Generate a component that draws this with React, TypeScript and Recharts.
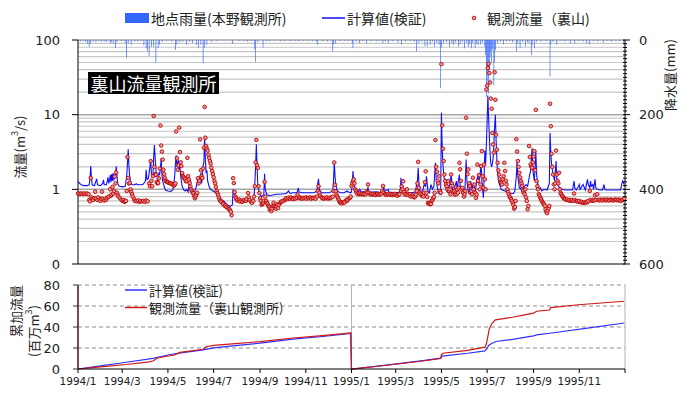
import React from "react";
import { ComposedChart, LineChart, Line, Bar, XAxis, YAxis, CartesianGrid } from "recharts";

// Day index 0 = 1994/1/1, 730 = 1996/1/1
const monthTickDays = [0, 59, 120, 181, 243, 304, 365, 424, 485, 546, 608, 669, 730];
const monthTickLabels = ["1994/1", "1994/3", "1994/5", "1994/7", "1994/9", "1994/11", "1995/1", "1995/3", "1995/5", "1995/7", "1995/9", "1995/11", ""];

const flowTicks = [0.1, 1, 10, 100];
const flowMinorGrid = [0.2, 0.3, 0.4, 0.5, 0.6, 0.7, 0.8, 0.9, 2, 3, 4, 5, 6, 7, 8, 9, 20, 30, 40, 50, 60, 70, 80, 90];
const flowMajorGrid = [1, 10, 100];
const rainTicks = Array.from({ length: 61 }, (_, i) => i * 10);
const cumTicks = [0, 20, 40, 60, 80];
const cumGrid = [20, 40, 60, 80];
const yearLines = [365, 730];

// daily rainfall at 本野 (mm), [day, mm]
const rainfall: [number, number][] = [
  [3, 4], [7, 3], [10, 5], [13, 10], [15, 18], [17, 9], [20, 4], [24, 6], [28, 3], [31, 5], [35, 4], [38, 5], [43, 9], [45, 6], [47, 10], [50, 22], [52, 6], [58, 3], [63, 8], [65, 49], [67, 10], [71, 13], [76, 4], [80, 5], [84, 3], [88, 14], [91, 22], [93, 31], [95, 43], [98, 18], [101, 18], [104, 60], [107, 22], [109, 12], [113, 5], [118, 3], [125, 4], [130, 27], [132, 13], [136, 6], [140, 4], [145, 13], [149, 5], [153, 8], [158, 13], [161, 22], [164, 13], [167, 62], [169, 20], [172, 13], [178, 4], [186, 3], [195, 2], [206, 10], [215, 2], [222, 3], [226, 4], [232, 3], [236, 25], [237, 59], [240, 6], [247, 20], [252, 4], [256, 3], [262, 2], [270, 3], [276, 2], [283, 3], [290, 2], [295, 4], [301, 3], [306, 2], [313, 3], [318, 5], [320, 13], [327, 3], [333, 4], [340, 31], [341, 12], [344, 10], [350, 3], [356, 2], [361, 3],
  [366, 8], [367, 22], [371, 4], [376, 9], [380, 3], [385, 9], [392, 3], [398, 4], [403, 2], [407, 9], [410, 4], [414, 9], [420, 3], [427, 7], [432, 13], [437, 4], [444, 3], [449, 5], [452, 31], [455, 8], [459, 4], [463, 16], [466, 18], [470, 13], [473, 5], [476, 18], [479, 8], [482, 13], [484, 129], [485, 20], [488, 10], [492, 6], [496, 18], [499, 8], [501, 13], [504, 6], [508, 18], [510, 12], [513, 5], [516, 22], [519, 8], [521, 18], [523, 10], [525, 22], [527, 8], [530, 22], [532, 10], [534, 14], [537, 12], [540, 6], [543, 18], [544, 40], [545, 152], [546, 125], [547, 95], [548, 143], [549, 80], [550, 45], [551, 30], [552, 62], [553, 25], [555, 121], [556, 60], [557, 27], [560, 8], [564, 5], [568, 12], [572, 4], [576, 3], [580, 6], [585, 31], [587, 10], [590, 22], [593, 5], [597, 18], [600, 6], [602, 8], [605, 40], [606, 15], [609, 22], [612, 5], [618, 4], [625, 3], [630, 98], [631, 12], [634, 5], [639, 13], [645, 3], [650, 4], [657, 9], [663, 9], [668, 3], [674, 4], [679, 9], [683, 12], [688, 3], [694, 4], [701, 7], [706, 3], [712, 4], [718, 3], [723, 3], [728, 7],
];

// computed discharge (m3/s), [day, value]
const calcFlow: [number, number][] = [
  [0, 1.27], [3, 1.18], [7, 1.12], [12, 1.12], [15, 1.15], [16, 1.4], [17, 2.05], [18, 1.4], [19, 1.15], [22, 1.12], [24, 1.3], [25, 1.38], [26, 1.15], [30, 1.12], [33, 1.2], [34, 1.34], [35, 1.15], [38, 1.15], [40, 1.45], [41, 1.2], [42, 1.3], [43, 1.55], [44, 1.25], [45, 1.6], [46, 1.3], [47, 1.65], [48, 1.35], [50, 1.5], [51, 2.03], [52, 1.5], [53, 1.2], [55, 1.1], [60, 1.08], [63, 1.1], [65, 1.5], [66, 2.2], [67, 3.45], [68, 2.0], [69, 1.5], [70, 1.25], [72, 1.15], [75, 1.15], [78, 1.18], [80, 1.15], [84, 1.15], [87, 1.17], [90, 1.3], [91, 1.83], [92, 1.35], [94, 1.4], [96, 2.0], [97, 2.55], [98, 1.6], [100, 1.5], [101, 2.7], [102, 3.93], [103, 2.6], [104, 1.8], [105, 1.5], [106, 1.41], [107, 1.3], [108, 1.65], [109, 1.6], [110, 1.9], [111, 2.62], [112, 1.6], [113, 1.3], [115, 1.09], [117, 0.97], [120, 0.95], [124, 0.94], [127, 1.0], [129, 1.5], [130, 2.2], [131, 2.85], [132, 2.0], [133, 2.3], [134, 2.45], [135, 1.8], [136, 2.0], [137, 1.5], [139, 1.1], [141, 0.98], [143, 0.95], [145, 1.0], [147, 0.92], [149, 1.4], [150, 1.1], [153, 0.92], [155, 0.89], [158, 1.1], [160, 1.41], [161, 1.2], [163, 1.5], [164, 1.65], [165, 1.2], [166, 1.5], [167, 2.1], [168, 2.3], [169, 5.2], [170, 2.5], [171, 1.65], [172, 1.8], [173, 1.3], [175, 1.09], [177, 1.0], [180, 0.95], [185, 0.89], [190, 0.75], [195, 0.69], [199, 0.62], [203, 0.59], [206, 0.62], [207, 1.0], [208, 0.9], [210, 0.8], [214, 0.73], [218, 0.73], [221, 0.74], [225, 0.72], [227, 0.76], [230, 0.7], [232, 0.67], [235, 0.8], [236, 1.2], [237, 2.0], [238, 4.0], [239, 2.0], [240, 1.1], [242, 0.9], [245, 0.8], [248, 0.85], [249, 1.62], [250, 1.0], [252, 0.85], [256, 0.82], [260, 0.84], [265, 0.86], [270, 0.86], [278, 0.88], [281, 0.95], [283, 0.88], [287, 0.9], [292, 0.9], [293, 0.95], [294, 1.05], [295, 0.92], [300, 0.9], [305, 0.9], [310, 0.9], [315, 0.9], [319, 0.95], [320, 1.2], [321, 1.38], [322, 1.0], [325, 0.9], [330, 0.9], [335, 0.9], [340, 0.95], [341, 1.3], [342, 2.36], [343, 1.5], [344, 1.15], [346, 0.95], [350, 0.9], [355, 0.9], [359, 0.95], [361, 0.92], [364, 0.9],
  [365, 0.93], [366, 1.2], [367, 1.76], [368, 1.3], [369, 1.1], [371, 0.93], [374, 0.93], [376, 1.0], [378, 0.93], [385, 0.93], [387, 1.05], [388, 0.93], [395, 0.92], [398, 0.93], [405, 0.9], [407, 0.95], [408, 1.1], [409, 0.93], [414, 1.0], [415, 0.92], [425, 0.9], [430, 0.92], [431, 1.43], [432, 1.0], [434, 0.9], [445, 0.9], [450, 0.92], [453, 1.3], [454, 1.95], [455, 1.2], [456, 0.95], [460, 0.95], [462, 1.16], [464, 1.1], [465, 1.5], [466, 1.2], [467, 0.95], [469, 0.9], [471, 1.16], [473, 1.0], [475, 1.1], [477, 2.27], [478, 1.4], [479, 1.16], [481, 0.88], [484, 0.85], [485, 10.6], [486, 3.6], [487, 2.2], [488, 1.58], [490, 1.16], [492, 0.95], [494, 0.9], [496, 1.16], [498, 1.58], [499, 1.2], [500, 0.95], [502, 0.86], [503, 1.1], [505, 1.29], [506, 0.95], [507, 1.2], [509, 1.58], [510, 1.1], [512, 0.9], [514, 0.86], [516, 0.8], [518, 2.5], [519, 1.3], [520, 1.05], [522, 0.86], [524, 1.29], [526, 1.0], [527, 1.16], [529, 1.1], [530, 0.86], [532, 1.3], [534, 1.58], [535, 1.2], [536, 1.4], [538, 2.15], [539, 1.3], [540, 1.0], [541, 0.77], [542, 1.5], [543, 3.3], [544, 2.2], [545, 4.0], [546, 8.0], [547, 18.0], [548, 9.0], [549, 5.0], [550, 3.0], [551, 2.2], [552, 2.0], [553, 2.2], [554, 2.6], [555, 4.0], [556, 7.0], [557, 10.0], [558, 4.5], [559, 2.5], [560, 1.6], [562, 1.2], [564, 1.05], [566, 0.98], [570, 0.95], [574, 0.9], [578, 0.88], [581, 0.88], [583, 0.95], [585, 1.5], [586, 2.39], [587, 1.5], [589, 1.05], [591, 1.0], [593, 1.29], [594, 1.0], [596, 1.1], [598, 1.16], [600, 1.1], [603, 1.6], [604, 1.76], [606, 3.6], [607, 1.8], [609, 1.3], [611, 3.25], [612, 1.6], [613, 1.3], [615, 1.0], [617, 1.05], [619, 0.95], [622, 1.0], [626, 0.98], [629, 1.2], [630, 5.7], [631, 3.0], [632, 2.2], [634, 1.58], [636, 1.3], [638, 2.39], [639, 1.4], [641, 1.1], [643, 1.05], [645, 1.0], [650, 0.98], [655, 0.98], [660, 0.98], [662, 1.29], [663, 1.05], [665, 0.98], [668, 1.1], [669, 1.16], [670, 1.0], [674, 1.16], [675, 1.1], [677, 0.98], [680, 1.36], [681, 1.16], [683, 1.05], [684, 1.29], [685, 1.1], [687, 1.16], [688, 1.0], [690, 1.36], [691, 1.05], [693, 1.0], [696, 0.98], [700, 0.98], [702, 1.16], [703, 1.0], [705, 0.98], [710, 0.98], [715, 0.98], [720, 0.98], [724, 0.98], [726, 1.2], [727, 1.3], [729, 1.16],
];

// observed discharge at 裏山 (m3/s), [day, value]
const observedFlow: [number, number][] = [
  [0, 0.88], [2, 0.87], [4, 0.88], [6, 0.87], [8, 0.88], [10, 0.87], [12, 0.88], [14, 0.86], [15, 0.72], [16, 0.69], [17, 1.42], [18, 0.78], [19, 0.74], [20, 0.72], [22, 0.76], [23, 0.93], [24, 0.75], [26, 0.72], [27, 0.78], [29, 0.73], [30, 0.7], [31, 0.75], [32, 0.93], [33, 0.74], [35, 0.71], [37, 0.72], [38, 0.76], [40, 0.78], [41, 0.8], [43, 1.0], [44, 0.82], [45, 0.85], [46, 1.08], [47, 0.88], [48, 0.95], [49, 1.48], [50, 1.2], [51, 1.68], [52, 0.9], [53, 0.84], [54, 0.8], [56, 0.76], [58, 0.72], [60, 0.7], [61, 0.72], [62, 0.68], [63, 0.69], [64, 0.7], [65, 0.95], [66, 2.7], [67, 1.42], [68, 1.2], [69, 1.22], [70, 1.0], [71, 0.92], [72, 0.86], [73, 0.8], [75, 0.74], [76, 0.7], [78, 0.69], [80, 0.71], [82, 0.68], [83, 0.7], [85, 0.69], [87, 0.7], [89, 0.68], [91, 0.71], [93, 0.69], [95, 1.2], [96, 1.1], [97, 2.38], [98, 1.3], [99, 1.1], [100, 1.5], [101, 9.6], [102, 2.0], [103, 1.6], [104, 1.57], [105, 1.25], [106, 1.2], [107, 1.22], [108, 1.4], [109, 1.9], [110, 7.15], [111, 3.86], [112, 3.2], [113, 2.5], [114, 1.83], [115, 1.6], [116, 1.41], [117, 1.3], [118, 1.28], [119, 1.25], [120, 1.24], [122, 1.22], [123, 1.2], [124, 1.2], [126, 1.18], [127, 1.15], [128, 1.12], [129, 1.15], [130, 1.2], [131, 5.95], [132, 2.6], [133, 1.83], [134, 2.1], [135, 6.7], [136, 3.15], [137, 2.3], [138, 2.05], [139, 1.65], [140, 1.5], [141, 1.45], [142, 1.4], [143, 1.36], [144, 1.28], [145, 1.3], [146, 2.64], [147, 1.5], [148, 1.35], [149, 1.22], [150, 1.1], [151, 1.0], [152, 0.95], [153, 0.9], [154, 0.89], [155, 0.82], [156, 0.76], [157, 0.8], [158, 0.85], [159, 0.9], [160, 1.41], [161, 1.2], [162, 1.3], [163, 4.65], [164, 1.8], [165, 1.5], [166, 1.42], [167, 1.9], [168, 3.6], [169, 12.7], [170, 4.9], [171, 3.8], [172, 3.5], [173, 3.3], [174, 2.9], [175, 2.64], [176, 2.4], [177, 2.2], [178, 1.95], [179, 1.75], [180, 1.6], [181, 1.45], [182, 1.3], [183, 1.2], [184, 1.08], [185, 0.95], [186, 0.89], [187, 0.84], [188, 0.78], [189, 0.73], [190, 0.7], [191, 0.68], [193, 0.65], [194, 0.63], [196, 0.6], [197, 0.61], [198, 0.58], [200, 0.57], [201, 0.55], [202, 0.54], [203, 0.52], [204, 0.5], [205, 0.45], [207, 1.41], [208, 1.21], [209, 0.92], [210, 0.8], [211, 0.76], [212, 0.72], [214, 0.7], [215, 0.73], [216, 0.69], [218, 0.71], [219, 0.68], [221, 0.7], [222, 0.72], [224, 0.7], [225, 0.74], [227, 0.89], [228, 0.78], [229, 0.72], [231, 0.68], [232, 0.66], [234, 0.7], [235, 0.8], [236, 1.1], [237, 2.29], [238, 4.6], [239, 2.1], [240, 1.93], [241, 1.1], [242, 0.89], [243, 0.76], [244, 0.7], [245, 0.62], [246, 0.64], [247, 0.66], [248, 0.7], [249, 1.26], [250, 0.8], [251, 0.7], [252, 0.66], [253, 0.64], [254, 0.6], [255, 0.58], [256, 0.53], [257, 0.56], [258, 0.51], [259, 0.55], [260, 0.6], [261, 0.66], [262, 0.6], [263, 0.58], [264, 0.55], [265, 0.59], [266, 0.63], [267, 0.56], [268, 0.62], [270, 0.66], [271, 0.68], [272, 0.69], [274, 0.7], [276, 0.72], [277, 0.74], [278, 0.76], [280, 0.74], [281, 0.77], [283, 0.75], [284, 0.78], [286, 0.76], [287, 0.74], [289, 0.77], [290, 0.75], [292, 0.77], [293, 0.85], [295, 0.76], [296, 0.78], [298, 0.76], [299, 0.75], [301, 0.77], [302, 0.76], [304, 0.78], [305, 0.75], [307, 0.77], [308, 0.76], [310, 0.78], [311, 0.75], [313, 0.77], [314, 0.76], [316, 0.78], [317, 0.75], [319, 0.8], [320, 0.95], [321, 1.1], [322, 0.9], [323, 0.82], [325, 0.78], [326, 0.76], [328, 0.75], [329, 0.77], [331, 0.76], [332, 0.78], [334, 0.75], [335, 0.77], [337, 0.76], [338, 0.78], [340, 0.8], [341, 0.95], [342, 2.29], [343, 1.15], [344, 0.94], [345, 0.85], [346, 0.8], [347, 0.76], [348, 0.72], [349, 0.68], [350, 0.66], [351, 0.67], [352, 0.65], [354, 0.66], [355, 0.68], [356, 0.67], [358, 0.72], [359, 0.7], [360, 0.73], [362, 0.76], [363, 0.77], [364, 0.8],
  [365, 1.11], [366, 1.2], [367, 1.29], [368, 1.36], [369, 1.2], [370, 1.0], [371, 0.95], [372, 0.9], [373, 0.87], [375, 0.86], [376, 0.88], [378, 0.86], [379, 0.87], [381, 0.85], [382, 0.87], [384, 0.86], [385, 0.93], [386, 0.9], [387, 1.16], [388, 0.9], [390, 0.86], [391, 0.87], [393, 0.85], [394, 0.87], [396, 0.86], [397, 0.84], [399, 0.86], [400, 0.87], [402, 0.85], [403, 0.86], [405, 0.88], [406, 0.95], [407, 1.11], [408, 0.9], [410, 0.86], [411, 0.84], [413, 0.86], [414, 0.87], [416, 0.85], [417, 0.86], [419, 0.84], [420, 0.86], [422, 0.85], [423, 0.87], [425, 0.84], [426, 0.82], [428, 0.85], [429, 0.86], [431, 0.95], [432, 1.1], [433, 1.0], [434, 1.28], [435, 0.92], [436, 0.86], [438, 0.85], [439, 1.0], [440, 0.87], [441, 0.84], [443, 0.86], [444, 0.8], [446, 0.83], [447, 0.8], [449, 0.78], [450, 0.8], [451, 0.85], [452, 0.95], [453, 1.2], [454, 2.33], [455, 1.05], [456, 0.9], [457, 0.86], [459, 0.82], [460, 0.85], [461, 0.8], [462, 0.9], [463, 1.25], [464, 1.74], [465, 0.9], [466, 0.79], [467, 0.66], [468, 0.64], [469, 0.65], [470, 0.63], [471, 0.64], [472, 0.7], [473, 0.72], [474, 0.76], [475, 0.79], [476, 0.9], [477, 4.56], [478, 2.0], [479, 1.72], [480, 1.3], [481, 1.2], [482, 1.5], [483, 0.95], [484, 0.9], [485, 47.5], [486, 7.2], [487, 3.5], [488, 2.39], [489, 1.58], [490, 1.3], [491, 1.16], [492, 1.1], [493, 1.0], [494, 1.29], [495, 0.95], [496, 1.0], [497, 0.86], [498, 1.58], [499, 1.2], [500, 1.11], [501, 0.93], [502, 0.95], [503, 0.85], [504, 0.9], [505, 0.86], [506, 1.0], [507, 0.9], [508, 1.05], [509, 2.27], [510, 1.85], [511, 1.3], [512, 1.0], [513, 1.05], [514, 0.9], [515, 0.8], [516, 0.86], [517, 0.95], [518, 9.1], [519, 3.0], [520, 1.6], [521, 1.85], [522, 1.2], [523, 1.11], [524, 0.9], [525, 0.95], [526, 0.86], [527, 1.43], [528, 1.0], [529, 1.16], [530, 0.9], [531, 0.77], [532, 0.85], [533, 2.15], [534, 1.3], [535, 1.55], [536, 1.0], [537, 1.16], [538, 2.05], [539, 3.25], [540, 1.5], [541, 1.05], [542, 2.15], [543, 1.36], [544, 1.0], [545, 21.7], [546, 24.5], [547, 42], [548, 48], [549, 36], [550, 27], [551, 16.4], [552, 12], [553, 5.7], [554, 4.0], [555, 3.1], [556, 37], [557, 15.8], [558, 5.4], [559, 3.4], [560, 2.27], [561, 1.8], [562, 1.58], [563, 1.36], [564, 1.25], [565, 1.22], [566, 1.16], [567, 1.36], [568, 1.5], [569, 2.27], [570, 1.76], [571, 1.3], [572, 1.16], [573, 1.0], [574, 0.92], [575, 0.86], [576, 0.8], [577, 0.77], [578, 0.74], [579, 0.7], [580, 0.66], [581, 0.62], [582, 0.55], [583, 0.58], [584, 0.7], [585, 4.7], [586, 3.2], [587, 2.39], [588, 2.0], [589, 1.67], [590, 1.45], [591, 1.29], [592, 1.2], [593, 1.11], [594, 0.95], [595, 0.9], [596, 0.86], [597, 1.0], [598, 0.78], [599, 0.7], [600, 0.54], [601, 0.6], [602, 3.8], [603, 2.7], [604, 2.15], [605, 2.0], [606, 1.95], [607, 2.3], [608, 2.75], [609, 3.25], [610, 1.8], [611, 11.6], [612, 1.29], [613, 1.1], [614, 1.0], [615, 0.86], [616, 0.82], [617, 0.77], [618, 0.74], [619, 0.7], [620, 0.67], [621, 0.65], [622, 0.63], [623, 0.6], [624, 0.54], [625, 0.5], [626, 0.48], [627, 0.52], [628, 0.56], [629, 0.6], [630, 14], [631, 7.0], [632, 3.0], [633, 2.0], [634, 1.58], [635, 1.16], [636, 1.0], [637, 1.2], [638, 3.3], [639, 1.58], [640, 1.3], [641, 1.2], [642, 1.67], [643, 1.0], [644, 0.9], [645, 0.86], [646, 0.82], [647, 0.8], [648, 0.77], [649, 0.75], [650, 0.74], [652, 0.72], [653, 0.73], [655, 0.71], [656, 0.72], [658, 0.7], [659, 0.72], [661, 0.7], [662, 0.88], [663, 0.72], [665, 0.7], [666, 0.69], [668, 0.68], [669, 0.7], [671, 0.67], [672, 0.68], [674, 0.66], [675, 0.67], [677, 0.66], [678, 0.68], [680, 0.67], [681, 0.7], [683, 0.95], [684, 0.72], [686, 0.7], [687, 0.72], [689, 0.71], [690, 0.83], [691, 0.72], [693, 0.86], [694, 0.72], [696, 0.71], [697, 0.73], [699, 0.72], [700, 0.71], [702, 0.73], [703, 0.72], [705, 0.71], [706, 0.73], [708, 0.72], [709, 0.71], [711, 0.73], [712, 0.72], [714, 0.71], [715, 0.72], [717, 0.73], [718, 0.72], [720, 0.71], [721, 0.73], [723, 0.72], [724, 0.7], [726, 0.71], [727, 0.73], [729, 0.75],
];

// cumulative volume (million m3), reset each year, [day, value]
const cumCalc: [number, number][] = [
  [0, 0], [30, 3.0], [65, 6.4], [100, 10.2], [123, 13.8], [145, 16.0], [167, 18.3], [181, 20.2], [210, 22.3], [243, 24.6], [287, 28.4], [330, 31.2], [364, 34.0],
  [365, 0], [400, 2.8], [430, 5.3], [460, 7.9], [484, 10.3], [486, 12.3], [520, 15.0], [543, 17.2], [546, 19.5], [548, 22.5], [552, 24.3], [558, 26.2], [580, 28.3], [608, 31.6], [612, 32.5], [632, 34.3], [680, 38.9], [729, 43.8],
];
const cumObserved: [number, number][] = [
  [0, 0], [30, 2.1], [65, 4.3], [95, 6.8], [100, 7.6], [106, 10.5], [123, 12.6], [129, 13.5], [136, 15.8], [167, 18.8], [171, 21.2], [181, 22.5], [210, 24.2], [243, 26.0], [287, 29.5], [330, 32.0], [364, 34.3],
  [365, 0], [400, 2.6], [430, 5.0], [460, 7.6], [484, 10.0], [485, 13.5], [487, 15.0], [520, 17.8], [543, 20.8], [545, 24.0], [547, 31.0], [549, 38.5], [551, 41.5], [553, 44.0], [557, 46.8], [580, 49.3], [596, 51.5], [608, 53.2], [612, 55.0], [629, 56.2], [631, 58.5], [668, 61.2], [729, 64.5],
];

const RAIN_COLOR = "#3366ff";
const CALC_COLOR = "#1010ff";
const OBS_STROKE = "#c00000";
const OBS_FILL = "#e49a9a";
const CUM_CALC_COLOR = "#3030ff";
const CUM_OBS_COLOR = "#d01515";
const NUM_FONT = "'DejaVu Sans', Verdana, sans-serif";
const JP_FONT = "'Noto Sans CJK JP', 'Noto Sans', sans-serif";

const toMap = (pairs: [number, number][]) => new Map(pairs.map(([d, v]) => [d, v]));
const rainMap = toMap(rainfall);
const calcMap = toMap(calcFlow);
const obsMap = toMap(observedFlow);
const dailyRows = Array.from({ length: 730 }, (_, day) => ({
  day,
  rain: rainMap.get(day) ?? null,
  calc: calcMap.get(day) ?? null,
  obs: obsMap.get(day) ?? null,
}));

const cumCalcMap = toMap(cumCalc);
const cumObsMap = toMap(cumObserved);
const cumDays = Array.from(new Set([...cumCalc.map((p) => p[0]), ...cumObserved.map((p) => p[0])])).sort((a, b) => a - b);
const cumRows = cumDays.map((day) => ({
  day,
  calc: cumCalcMap.get(day) ?? null,
  obs: cumObsMap.get(day) ?? null,
}));

const monthLabel = (d: number) => {
  const i = monthTickDays.indexOf(d);
  return i >= 0 ? monthTickLabels[i] : "";
};

const RainTick = (props: any) => {
  const { x, y, payload } = props;
  const v = payload.value as number;
  const major = v % 200 === 0;
  return (
    <g>
      <line x1={x - 2} x2={x + (major ? 5 : 2)} y1={y} y2={y} stroke="#000" strokeWidth={1} />
      {major && (
        <text x={x + 14} y={y} dy="0.36em" textAnchor="start" fontSize={13} fill="#222" fontFamily={NUM_FONT}>
          {v}
        </text>
      )}
    </g>
  );
};

const ObsDot = (props: any) => {
  const { cx, cy, value, index } = props;
  if (value == null || cx == null || cy == null || Number.isNaN(cy)) return <g key={`o-${index}`} />;
  return <circle key={`o-${index}`} cx={cx} cy={cy} r={1.8} fill={OBS_FILL} stroke={OBS_STROKE} strokeWidth={0.9} />;
};

export default function App() {
  return (
    <div style={{ position: "absolute", left: 0, top: 0, width: 683, height: 394, background: "#fff", fontFamily: NUM_FONT }}>
      <div style={{ position: "absolute", left: 0, top: 0 }}>
        <ComposedChart width={683} height={272} data={dailyRows} margin={{ top: 40, right: 0, bottom: 0, left: 0 }}>
          <CartesianGrid yAxisId="flow" vertical={false} horizontalValues={flowMinorGrid} stroke="#c6c6c6" strokeWidth={1.2} />
          <CartesianGrid yAxisId="flow" vertical={false} horizontalValues={flowMajorGrid} stroke="#a6a6a6" strokeWidth={1.5} />
          <CartesianGrid yAxisId="flow" horizontal={false} verticalValues={[365]} stroke="#b4b4b4" strokeWidth={1} />
          <XAxis
            dataKey="day"
            type="number"
            domain={[0, 730]}
            ticks={monthTickDays}
            interval={0}
            tick={false}
            tickSize={4}
            height={8}
            axisLine={{ stroke: "#000" }}
            tickLine={{ stroke: "#000" }}
          />
          <YAxis
            yAxisId="flow"
            scale="log"
            domain={[0.1, 100]}
            allowDataOverflow
            ticks={flowTicks}
            interval={0}
            width={78}
            tickSize={6}
            tickMargin={12}
            tickFormatter={(v: number) => (v < 1 ? "0" : String(v))}
            tick={{ fontSize: 13, fill: "#222", fontFamily: NUM_FONT }}
            axisLine={{ stroke: "#000" }}
            tickLine={{ stroke: "#000" }}
          />
          <YAxis
            yAxisId="rain"
            orientation="right"
            domain={[0, 600]}
            reversed
            ticks={rainTicks}
            interval={0}
            width={58}
            tickSize={0}
            tickMargin={0}
            tickLine={false}
            tick={<RainTick />}
            axisLine={{ stroke: "#000" }}
          />
          <Bar yAxisId="rain" dataKey="rain" fill={RAIN_COLOR} barSize={1.6} isAnimationActive={false} />
          <Line yAxisId="flow" dataKey="calc" stroke={CALC_COLOR} strokeWidth={1.1} dot={false} activeDot={false} connectNulls isAnimationActive={false} />
          <Line yAxisId="flow" dataKey="obs" stroke="none" dot={<ObsDot />} activeDot={false} isAnimationActive={false} />
        </ComposedChart>
      </div>

      <div style={{ position: "absolute", left: 0, top: 270 }}>
        <LineChart width={683} height={124} data={cumRows} margin={{ top: 15, right: 58, bottom: 0, left: 0 }}>
          <CartesianGrid vertical={false} horizontalValues={cumGrid} stroke="#8c8c8c" strokeDasharray="4 3" />
          <CartesianGrid horizontal={false} verticalValues={yearLines} stroke="#b4b4b4" />
          <XAxis
            dataKey="day"
            type="number"
            domain={[0, 730]}
            ticks={monthTickDays}
            interval={0}
            tickFormatter={monthLabel}
            tickSize={4}
            tickMargin={5}
            height={25}
            tick={{ fontSize: 10.5, fill: "#222", fontFamily: NUM_FONT }}
            axisLine={{ stroke: "#000" }}
            tickLine={{ stroke: "#000" }}
          />
          <YAxis
            domain={[0, 80]}
            ticks={cumTicks}
            interval={0}
            width={78}
            tickSize={5}
            tickMargin={13}
            tick={{ fontSize: 13, fill: "#222", fontFamily: NUM_FONT }}
            axisLine={{ stroke: "#5a0818", strokeWidth: 1.5 }}
            tickLine={{ stroke: "#333" }}
          />
          <Line dataKey="calc" stroke={CUM_CALC_COLOR} strokeWidth={1.2} dot={false} activeDot={false} connectNulls isAnimationActive={false} />
          <Line dataKey="obs" stroke={CUM_OBS_COLOR} strokeWidth={1.2} dot={false} activeDot={false} connectNulls isAnimationActive={false} />
        </LineChart>
      </div>

      <svg width={683} height={394} style={{ position: "absolute", left: 0, top: 0, pointerEvents: "none" }} fontFamily={JP_FONT}>
        <rect x={125} y={13} width={24} height={10} fill={RAIN_COLOR} />
        <text x={151} y={18} dominantBaseline="central" fontSize={14} fill="#222">地点雨量(本野観測所)</text>
        <line x1={322} x2={345} y1={18} y2={18} stroke={CALC_COLOR} strokeWidth={1.5} />
        <text x={347} y={18} dominantBaseline="central" fontSize={14} fill="#222">計算値(検証)</text>
        <circle cx={474} cy={18} r={1.8} fill={OBS_FILL} stroke={OBS_STROKE} strokeWidth={0.9} />
        <text x={487} y={18} dominantBaseline="central" fontSize={14} fill="#222">観測流量（裏山)</text>

        <rect x={88} y={72} width={131} height={22} fill="#000" />
        <text x={153.5} y={83} textAnchor="middle" dominantBaseline="central" fontSize={18} fill="#fff">裏山流量観測所</text>

        <text transform="translate(19,147) rotate(-90)" textAnchor="middle" dominantBaseline="central" fontSize={13} fill="#222">
          流量(m<tspan dy={-5} fontSize={9}>3</tspan><tspan dy={5}>/s)</tspan>
        </text>
        <text transform="translate(669,75) rotate(-90)" textAnchor="middle" dominantBaseline="central" fontSize={13} fill="#222">降水量(mm)</text>
        <text transform="translate(15,311) rotate(-90)" textAnchor="middle" dominantBaseline="central" fontSize={13} fill="#222">累加流量</text>
        <text transform="translate(33,331) rotate(-90)" textAnchor="middle" dominantBaseline="central" fontSize={13} fill="#222">
          (百万m<tspan dy={-5} fontSize={9}>3</tspan><tspan dy={5}>)</tspan>
        </text>

        <line x1={125} x2={147} y1={290} y2={290} stroke={CUM_CALC_COLOR} strokeWidth={1.5} />
        <text x={149} y={290} dominantBaseline="central" fontSize={13} fill="#222">計算値(検証)</text>
        <line x1={125} x2={147} y1={307.5} y2={307.5} stroke={CUM_OBS_COLOR} strokeWidth={1.5} />
        <text x={149} y={307.5} dominantBaseline="central" fontSize={13} fill="#222">観測流量（裏山観測所)</text>
      </svg>
    </div>
  );
}
